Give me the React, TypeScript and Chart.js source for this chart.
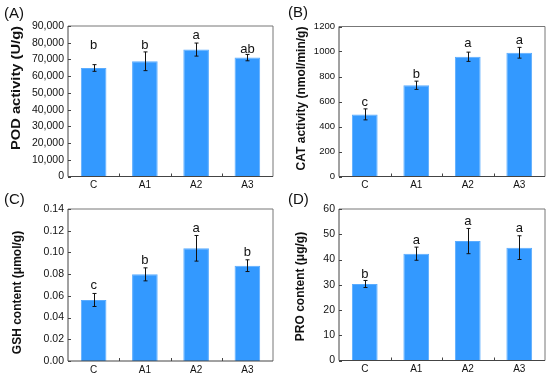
import React, { useEffect, useRef } from "react";
import { Chart, registerables } from "chart.js";
Chart.register(...registerables);

const FONT = "'Liberation Sans', Arial, Helvetica, sans-serif";

const categories = ["C", "A1", "A2", "A3"];

const podValues = [64900, 68900, 75900, 71100];
const podErrors = [2000, 5600, 3900, 1900];
const podLetters = ["b", "b", "a", "ab"];
const podLetterY = [76400, 76500, 82500, 74100];

const catValues = [497, 730, 958, 990];
const catErrors = [44, 33, 37, 43];
const catLetters = ["c", "b", "a", "a"];
const catLetterY = [564, 790, 1038, 1057];

const gshValues = [0.0562, 0.0798, 0.1038, 0.0878];
const gshErrors = [0.006, 0.006, 0.0118, 0.0054];
const gshLetters = ["c", "b", "a", "b"];
const gshLetterY = [0.066, 0.089, 0.119, 0.0967];

const proValues = [30.3, 42.3, 47.3, 44.7];
const proErrors = [1.4, 2.6, 5.0, 4.7];
const proLetters = ["b", "a", "a", "a"];
const proLetterY = [32.8, 46, 53.7, 50.8];

type Panel = {
  label: string;
  title: string;
  values: number[];
  errors: number[];
  letters: string[];
  letterY: number[];
  max: number;
  step: number;
  fmt: (v: number) => string;
  pos: { left: number; top: number };
  area: { left: number; top: number; right: number; bottom: number };
  titlePos: { x: number; y: number; len?: number };
  labelPos: { x: number; y: number };
  tickSize: number;
};

const W = 275;
const H = 192;

const panels: Panel[] = [
  {
    label: "(A)", title: "POD activity (U/g)",
    values: podValues, errors: podErrors, letters: podLetters, letterY: podLetterY,
    max: 90000, step: 10000, fmt: (v) => v.toLocaleString("en-US"),
    pos: { left: 0, top: 0 },
    area: { left: 68, top: 26, right: 273, bottom: 176.5 },
    titlePos: { x: 16.5, y: 88, len: 124 }, labelPos: { x: 4, y: 13.5 }, tickSize: 10.5,
  },
  {
    label: "(B)", title: "CAT activity (nmol/min/g)",
    values: catValues, errors: catErrors, letters: catLetters, letterY: catLetterY,
    max: 1200, step: 200, fmt: (v) => String(v),
    pos: { left: 275, top: 0 },
    area: { left: 64, top: 26.5, right: 270, bottom: 176.5 },
    titlePos: { x: 26.5, y: 98.5 }, labelPos: { x: 13, y: 13 }, tickSize: 9.5,
  },
  {
    label: "(C)", title: "GSH content (μmol/g)",
    values: gshValues, errors: gshErrors, letters: gshLetters, letterY: gshLetterY,
    max: 0.14, step: 0.02, fmt: (v) => v.toFixed(2),
    pos: { left: 0, top: 185 },
    area: { left: 68, top: 24, right: 273, bottom: 176 },
    titlePos: { x: 17.5, y: 107.5 }, labelPos: { x: 4, y: 14.5 }, tickSize: 10.5,
  },
  {
    label: "(D)", title: "PRO content (μg/g)",
    values: proValues, errors: proErrors, letters: proLetters, letterY: proLetterY,
    max: 60, step: 10, fmt: (v) => String(v),
    pos: { left: 275, top: 185 },
    area: { left: 64, top: 24, right: 270, bottom: 175.5 },
    titlePos: { x: 26, y: 101.5 }, labelPos: { x: 13, y: 14.5 }, tickSize: 10.5,
  },
];

function makePlugin(p: Panel) {
  return {
    id: "decor",
    afterDraw(chart: any) {
      const ctx = chart.ctx as CanvasRenderingContext2D;
      const a = chart.chartArea;
      const xs = chart.scales.x;
      const ys = chart.scales.y;
      ctx.save();
      // frame
      ctx.lineWidth = 1;
      ctx.strokeStyle = "#777";
      ctx.beginPath();
      ctx.moveTo(a.left, a.top);
      ctx.lineTo(a.right, a.top);
      ctx.lineTo(a.right, a.bottom);
      ctx.stroke();
      ctx.strokeStyle = "#444";
      ctx.beginPath();
      ctx.moveTo(a.left, a.top);
      ctx.lineTo(a.left, a.bottom);
      ctx.lineTo(a.right, a.bottom);
      ctx.stroke();
      // y ticks inward
      ys.ticks.forEach((t: any) => {
        const y = Math.round(ys.getPixelForValue(t.value)) + 0.5;
        ctx.beginPath();
        ctx.moveTo(a.left, y);
        ctx.lineTo(a.left + 3, y);
        ctx.stroke();
      });
      // x ticks at category boundaries
      for (let i = 1; i < categories.length; i++) {
        const x = Math.round((xs.getPixelForValue(i - 1) + xs.getPixelForValue(i)) / 2) + 0.5;
        ctx.beginPath();
        ctx.moveTo(x, a.bottom);
        ctx.lineTo(x, a.bottom - 3);
        ctx.stroke();
      }
      // error bars
      ctx.strokeStyle = "#111";
      ctx.lineWidth = 1;
      p.values.forEach((v, i) => {
        const x = Math.round(xs.getPixelForValue(i)) + 0.5;
        const yt = ys.getPixelForValue(v + p.errors[i]);
        const yb = ys.getPixelForValue(v - p.errors[i]);
        ctx.beginPath();
        ctx.moveTo(x, yt);
        ctx.lineTo(x, yb);
        ctx.moveTo(x - 2, yt);
        ctx.lineTo(x + 2, yt);
        ctx.moveTo(x - 2, yb);
        ctx.lineTo(x + 2, yb);
        ctx.stroke();
      });
      // significance letters
      ctx.fillStyle = "#111";
      ctx.font = `13px ${FONT}`;
      ctx.textAlign = "center";
      ctx.textBaseline = "alphabetic";
      p.letters.forEach((s, i) => {
        ctx.fillText(s, xs.getPixelForValue(i), ys.getPixelForValue(p.letterY[i]));
      });
      // panel label
      ctx.font = `15px ${FONT}`;
      ctx.textAlign = "left";
      ctx.textBaseline = "middle";
      ctx.fillText(p.label, p.labelPos.x, p.labelPos.y);
      // y title
      ctx.translate(p.titlePos.x, p.titlePos.y);
      ctx.rotate(-Math.PI / 2);
      ctx.font = `bold 12px ${FONT}`;
      ctx.textAlign = "center";
      ctx.textBaseline = "middle";
      if (p.titlePos.len) {
        const w = ctx.measureText(p.title).width;
        ctx.scale(p.titlePos.len / w, 1);
      }
      ctx.fillText(p.title, 0, 0);
      ctx.restore();
    },
  };
}

function PanelChart({ p }: { p: Panel }) {
  const ref = useRef<HTMLCanvasElement | null>(null);
  useEffect(() => {
    if (!ref.current) return;
    const chart = new Chart(ref.current, {
      type: "bar",
      data: {
        labels: categories,
        datasets: [
          {
            data: p.values,
            backgroundColor: "#3399ff",
            borderColor: "#5aacff",
            borderWidth: 1,
            categoryPercentage: 1,
            barPercentage: 0.5,
          },
        ],
      },
      options: {
        responsive: false,
        animation: false,
        devicePixelRatio: 1,
        layout: {
          padding: { left: 0, top: p.area.top, right: W - p.area.right, bottom: 0 },
        },
        plugins: { legend: { display: false }, tooltip: { enabled: false }, title: { display: false } },
        scales: {
          x: {
            grid: { display: false, drawTicks: false },
            border: { display: false },
            ticks: { color: "#111", font: { family: FONT, size: 10 }, padding: 3, maxRotation: 0 },
            afterFit: (s: any) => { s.height = H - p.area.bottom; },
          },
          y: {
            min: 0,
            max: p.max,
            grid: { display: false, drawTicks: false },
            border: { display: false },
            ticks: {
              stepSize: p.step,
              color: "#111",
              font: { family: FONT, size: p.tickSize },
              padding: 4,
              callback: (v: any) => p.fmt(Number(v)),
            },
            afterFit: (s: any) => { s.width = p.area.left; },
          },
        },
      },
      plugins: [makePlugin(p)],
    } as any);
    return () => chart.destroy();
  }, [p]);
  return (
    <canvas
      ref={ref}
      width={W}
      height={H}
      style={{ position: "absolute", left: p.pos.left, top: p.pos.top, width: W, height: H }}
    />
  );
}

export default function App() {
  return (
    <div style={{ position: "absolute", left: 0, top: 0, width: 550, height: 377, background: "#fff" }}>
      {panels.map((p) => (
        <PanelChart key={p.label} p={p} />
      ))}
    </div>
  );
}
